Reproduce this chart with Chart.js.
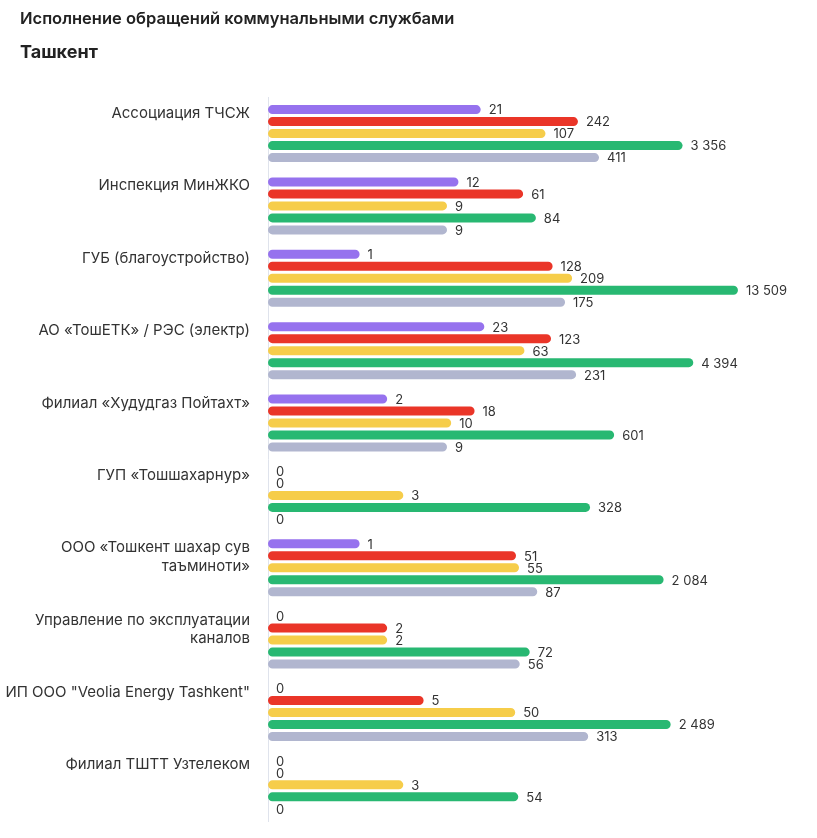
<!DOCTYPE html>
<html lang="ru">
<head>
<meta charset="utf-8">
<script src="https://cdn.jsdelivr.net/npm/chart.js@4"></script>
<style>
  html, body { margin: 0; padding: 0; background: #fff; }
  #wrap { width: 817px; height: 838px; }
</style>
</head>
<body>
<div id="wrap"><canvas id="grafico"></canvas></div>
<script>
// Категории (службы)
const categorias = [
  ['Ассоциация ТЧСЖ'],
  ['Инспекция МинЖКО'],
  ['ГУБ (благоустройство)'],
  ['АО «ТошЕТК» / РЭС (электр)'],
  ['Филиал «Худудгаз Пойтахт»'],
  ['ГУП «Тошшахарнур»'],
  ['ООО «Тошкент шахар сув', 'таъминоти»'],
  ['Управление по эксплуатации', 'каналов'],
  ['ИП ООО "Veolia Energy Tashkent"'],
  ['Филиал ТШТТ Узтелеком']
];

// Серии (по цвету)
const serieRoxo     = [21, 12, 1, 23, 2, 0, 1, 0, 0, 0];
const serieVermelho = [242, 61, 128, 123, 18, 0, 51, 2, 5, 0];
const serieAmarelo  = [107, 9, 209, 63, 10, 3, 55, 2, 50, 3];
const serieVerde    = [3356, 84, 13509, 4394, 601, 328, 2084, 72, 2489, 54];
const serieCinza    = [411, 9, 175, 231, 9, 0, 87, 56, 313, 0];

const cores = ['#9672ee', '#ea3528', '#f6cd4a', '#28b872', '#b1b6cf'];
const series = [serieRoxo, serieVermelho, serieAmarelo, serieVerde, serieCinza];

const fonte = 'Inter, "Noto Sans", sans-serif';
const fmt = v => String(v).replace(/\B(?=(\d{3})+(?!\d))/g, ' ');

// Подписи значений справа от столбцов
const rotulos = {
  id: 'rotulos',
  afterDatasetsDraw(chart) {
    const { ctx, chartArea, scales: { x } } = chart;
    ctx.save();
    ctx.font = '13px ' + fonte;
    ctx.fillStyle = '#333';
    ctx.textAlign = 'left';
    ctx.textBaseline = 'middle';
    chart.data.datasets.forEach((ds, d) => {
      const meta = chart.getDatasetMeta(d);
      ds.data.forEach((v, i) => {
        const el = meta.data[i];
        const fim = v > 0 ? x.getPixelForValue(v) : chartArea.left;
        ctx.fillText(fmt(v), fim + 8, el.y + 1);
      });
    });
    ctx.restore();
  }
};

// Подписи категорий (выравнивание по первому столбцу группы)
const categoriasEsq = {
  id: 'categoriasEsq',
  afterDraw(chart) {
    const { ctx, scales: { y } } = chart;
    const meta = chart.getDatasetMeta(0);
    ctx.save();
    ctx.font = '15px ' + fonte;
    ctx.fillStyle = '#333';
    ctx.textAlign = 'right';
    ctx.textBaseline = 'middle';
    chart.data.labels.forEach((linhas, i) => {
      const topo = meta.data[i].y + 4;
      linhas.forEach((t, k) => ctx.fillText(t, y.right - 18, topo + k * 18.5));
    });
    ctx.restore();
  }
};

new Chart(document.querySelector('#grafico'), {
  type: 'bar',
  data: {
    labels: categorias,
    datasets: series.map((s, i) => ({
      data: s,
      backgroundColor: cores[i],
      borderRadius: 5,
      borderSkipped: false,
      barPercentage: 0.75,
      categoryPercentage: 0.829
    }))
  },
  options: {
    indexAxis: 'y',
    responsive: true,
    maintainAspectRatio: false,
    animation: false,
    layout: { padding: { top: 0, bottom: 17, left: 20, right: 20 } },
    plugins: {
      legend: { display: false },
      tooltip: { enabled: false },
      title: {
        display: true,
        text: 'Исполнение обращений коммунальными службами',
        align: 'start',
        color: '#222',
        font: { family: fonte, size: 16.5, weight: '600' },
        padding: { top: 9, bottom: 5 }
      },
      subtitle: {
        display: true,
        text: 'Ташкент',
        align: 'start',
        color: '#222',
        font: { family: fonte, size: 18, weight: '700' },
        padding: { top: 8, bottom: 34 }
      }
    },
    scales: {
      x: {
        type: 'logarithmic',
        min: 0.1,
        max: 59600,
        display: false
      },
      y: {
        grid: { display: false },
        border: { display: true, color: '#dfe3ec', width: 1 },
        ticks: { display: false },
        afterFit(scale) { scale.width = 248; }
      }
    }
  },
  plugins: [rotulos, categoriasEsq]
});
</script>
</body>
</html>
